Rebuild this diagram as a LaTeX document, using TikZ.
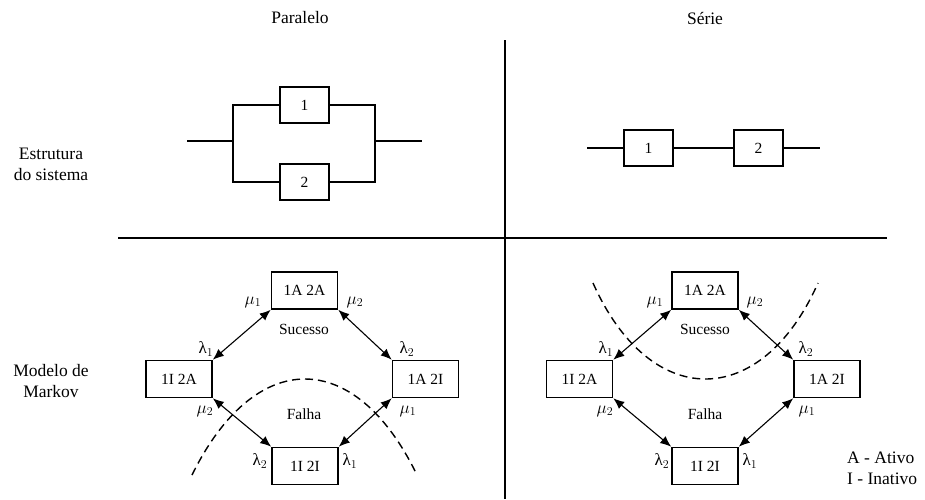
\documentclass[tikz,border=0pt]{standalone}
\usepackage{fontspec}
\setmainfont{Liberation Serif}
\usetikzlibrary{arrows.meta}

\tikzset{
  state/.style={draw, line width=1.6pt, minimum width=66pt, minimum height=37pt,
    inner sep=0pt, font=\fontsize{15.5}{18}\selectfont},
  unit/.style={draw, line width=1.6pt, minimum width=49pt, minimum height=36pt,
    inner sep=0pt, font=\fontsize{15.5}{18}\selectfont},
  wire/.style={line width=1.6pt},
  divider/.style={line width=1.6pt},
  trans/.style={line width=1.1pt, {Latex[length=11pt,width=9pt]}-{Latex[length=11pt,width=9pt]}},
  rate/.style={inner sep=0pt, font=\fontsize{17}{18}\selectfont},
  region/.style={inner sep=0pt, font=\fontsize{15.5}{18}\selectfont},
  heading/.style={inner sep=0pt, font=\fontsize{17.5}{21}\selectfont, align=center},
  boundary/.style={line width=1.4pt, dash pattern=on 8pt off 5pt},
}
\newcommand{\lam}[1]{$\mbox{λ}_{#1}$}
\newcommand{\mmu}[1]{$\mu_{#1}$}

\begin{document}
\begin{tikzpicture}[x=1pt, y=-1pt]
  \useasboundingbox (0,0) rectangle (925,499);

  % column and row headings
  \node[heading] (hpar) at (300,18) {Paralelo};
  \node[heading] (hser) at (705,18) {Série};
  \node[heading] (hstr) at (51,164) {Estrutura\\do sistema};
  \node[heading] (hmkv) at (51,381) {Modelo de\\Markov};

  % quadrant dividers
  \coordinate (vtop) at (505,40);
  \coordinate (vbot) at (505,499);
  \coordinate (hleft) at (118,238);
  \coordinate (hright) at (887,238);
  \draw[divider] (vtop) -- (vbot);
  \draw[divider] (hleft) -- (hright);

  % parallel structure
  \node[unit] (p1) at (304.5,105) {1};
  \node[unit] (p2) at (304.5,182) {2};
  \coordinate (pin) at (187,141);
  \coordinate (pl) at (233,141);
  \coordinate (pr) at (375,141);
  \coordinate (pout) at (422,141);
  \draw[wire] (pin) -- (pl);
  \draw[wire] (p1.west) -| (pl) |- (p2.west);
  \draw[wire] (p1.east) -| (pr) |- (p2.east);
  \draw[wire] (pr) -- (pout);

  % series structure
  \node[unit] (s1) at (648.5,148) {1};
  \node[unit] (s2) at (758.5,148) {2};
  \coordinate (sin) at (587,148);
  \coordinate (sout) at (820,148);
  \draw[wire] (sin) -- (s1.west);
  \draw[wire] (s1.east) -- (s2.west);
  \draw[wire] (s2.east) -- (sout);

  % Markov model, parallel system
  \node[state] (a11) at (304.5,290.5) {1A 2A};
  \node[state] (a01) at (179,379) {1I 2A};
  \node[state] (a10) at (425.5,379) {1A 2I};
  \node[state] (a00) at (305,466) {1I 2I};
  \draw[trans] (a11.south west) -- (a01.north east);
  \draw[trans] (a11.south east) -- (a10.north west);
  \draw[trans] (a01.south east) -- (a00.north west);
  \draw[trans] (a10.south west) -- (a00.north east);
  \node[rate] (pm1a) at (253,302) {\mmu{1}};
  \node[rate] (pm2a) at (355,302) {\mmu{2}};
  \node[rate] (pl1a) at (206,349) {\lam{1}};
  \node[rate] (pl2a) at (407,349) {\lam{2}};
  \node[rate] (pm2b) at (205,411) {\mmu{2}};
  \node[rate] (pm1b) at (408,411) {\mmu{1}};
  \node[rate] (pl2b) at (260,461) {\lam{2}};
  \node[rate] (pl1b) at (350,461) {\lam{1}};
  \node[region] (pok) at (304,329) {Sucesso};
  \node[region] (pko) at (304,414) {Falha};
  \coordinate (pc0) at (192,475);
  \coordinate (pc1) at (417,475);
  \draw[boundary] (pc0) .. controls (255,347) and (355,347) .. (pc1);

  % Markov model, series system
  \node[state] (b11) at (705,290.5) {1A 2A};
  \node[state] (b01) at (579.5,379) {1I 2A};
  \node[state] (b10) at (827,379) {1A 2I};
  \node[state] (b00) at (705,466) {1I 2I};
  \draw[trans] (b11.south west) -- (b01.north east);
  \draw[trans] (b11.south east) -- (b10.north west);
  \draw[trans] (b01.south east) -- (b00.north west);
  \draw[trans] (b10.south west) -- (b00.north east);
  \node[rate] (sm1a) at (655,302) {\mmu{1}};
  \node[rate] (sm2a) at (755,302) {\mmu{2}};
  \node[rate] (sl1a) at (606,349) {\lam{1}};
  \node[rate] (sl2a) at (806,349) {\lam{2}};
  \node[rate] (sm2b) at (605,411) {\mmu{2}};
  \node[rate] (sm1b) at (807,411) {\mmu{1}};
  \node[rate] (sl2b) at (662,461) {\lam{2}};
  \node[rate] (sl1b) at (750,461) {\lam{1}};
  \node[region] (sok) at (705,329) {Sucesso};
  \node[region] (sko) at (705,414) {Falha};
  \coordinate (sc0) at (593,283);
  \coordinate (sc1) at (818,283);
  \draw[boundary] (sc0) .. controls (650,411) and (761,411) .. (sc1);

  % legend
  \node[heading, anchor=west, align=left] (key) at (847,468) {A - Ativo\\I - Inativo};
\end{tikzpicture}
\end{document}
